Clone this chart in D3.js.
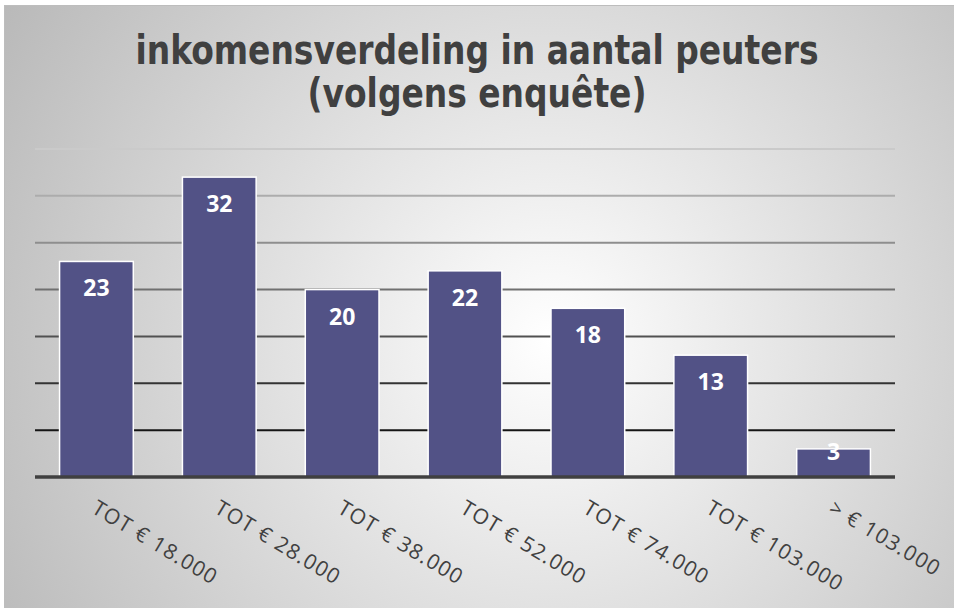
<!DOCTYPE html>
<html>
<head>
<meta charset="utf-8">
<script src="https://cdn.jsdelivr.net/npm/d3@7"></script>
<style>
  body { margin: 0; background: #fff; }
</style>
</head>
<body>
<div id="chart"></div>
<script>
// data
var categories = ["TOT € 18.000", "TOT € 28.000", "TOT € 38.000", "TOT € 52.000",
                  "TOT € 74.000", "TOT € 103.000", "> € 103.000"];
var values = [23, 32, 20, 22, 18, 13, 3];
var yTicks = [0, 5, 10, 15, 20, 25, 30, 35];
var titleLines = ["inkomensverdeling in aantal peuters", "(volgens enquête)"];

var W = 954, H = 608;
var margin = { top: 149, right: 59, bottom: 131, left: 35 },
  width = W - margin.left - margin.right,
  height = H - margin.top - margin.bottom;

var svg = d3.select("#chart")
  .append("svg")
  .attr("width", W)
  .attr("height", H);

// background gradient
var defs = svg.append("defs");
var grad = defs.append("radialGradient")
  .attr("id", "bg")
  .attr("gradientUnits", "userSpaceOnUse")
  .attr("cx", 550).attr("cy", 340).attr("r", 640);
grad.append("stop").attr("offset", "0%").attr("stop-color", "#ffffff");
grad.append("stop").attr("offset", "100%").attr("stop-color", "#b9b9b9");

svg.append("rect")
  .attr("x", 4.5).attr("y", 5.5)
  .attr("width", W - 4).attr("height", H - 5)
  .attr("fill", "url(#bg)")
  .attr("stroke", "#bdbdbd")
  .attr("stroke-width", 1);

// title
var title = svg.append("text")
  .attr("text-anchor", "middle")
  .style("font-family", "'DejaVu Sans Condensed', 'DejaVu Sans', sans-serif")
  .style("font-weight", "bold")
  .style("font-size", "40px")
  .attr("fill", "#404040");
title.append("tspan").attr("x", 477).attr("y", 64)
  .attr("textLength", 683).attr("lengthAdjust", "spacingAndGlyphs")
  .text(titleLines[0]);
title.append("tspan").attr("x", 477).attr("y", 107)
  .attr("textLength", 339).attr("lengthAdjust", "spacingAndGlyphs")
  .text(titleLines[1]);

var g = svg.append("g")
  .attr("transform", "translate(" + margin.left + "," + margin.top + ")");

var x = d3.scaleBand()
  .domain(categories)
  .range([0, width])
  .paddingInner(0.4)
  .paddingOuter(0.2);

var y = d3.scaleLinear()
  .domain([0, 35])
  .range([height, 0]);

// gridlines get darker towards the bottom
var gridColor = d3.scaleLinear()
  .domain([5, 35])
  .range(["#151515", "#cacaca"]);

g.selectAll(".grid")
  .data(yTicks.filter(d => d > 0))
  .enter()
  .append("line")
  .attr("class", "grid")
  .attr("x1", 0).attr("x2", width)
  .attr("y1", d => y(d)).attr("y2", d => y(d))
  .attr("stroke", d => gridColor(d))
  .attr("stroke-width", 2);

// bars
g.selectAll(".bar")
  .data(values)
  .enter()
  .append("rect")
  .attr("class", "bar")
  .attr("x", (d, i) => x(categories[i]))
  .attr("y", d => y(d))
  .attr("width", x.bandwidth())
  .attr("height", d => height - y(d))
  .attr("fill", "#525286")
  .attr("stroke", "#ffffff")
  .attr("stroke-width", 1.5);

// baseline
g.append("line")
  .attr("x1", 0).attr("x2", width)
  .attr("y1", y(0)).attr("y2", y(0))
  .attr("stroke", "#404040")
  .attr("stroke-width", 3.5);

// value labels
g.selectAll(".val")
  .data(values)
  .enter()
  .append("text")
  .attr("class", "val")
  .attr("x", (d, i) => x(categories[i]) + x.bandwidth() / 2)
  .attr("y", d => Math.min(y(d) + 35, y(0) - 17))
  .attr("text-anchor", "middle")
  .style("font-family", "'Open Sans', sans-serif")
  .style("font-weight", "bold")
  .style("font-size", "23px")
  .attr("fill", "#ffffff")
  .text(d => d);

// category labels, rotated
g.selectAll(".cat")
  .data(categories)
  .enter()
  .append("text")
  .attr("class", "cat")
  .attr("transform", d => "translate(" + (x(d) + x.bandwidth() / 2 - 6) + "," + (height + 35) + ") rotate(31)")
  .style("font-family", "'Open Sans', sans-serif")
  .style("font-size", "21px")
  .style("letter-spacing", "1.2px")
  .attr("fill", "#404040")
  .text(d => d);
</script>
</body>
</html>
